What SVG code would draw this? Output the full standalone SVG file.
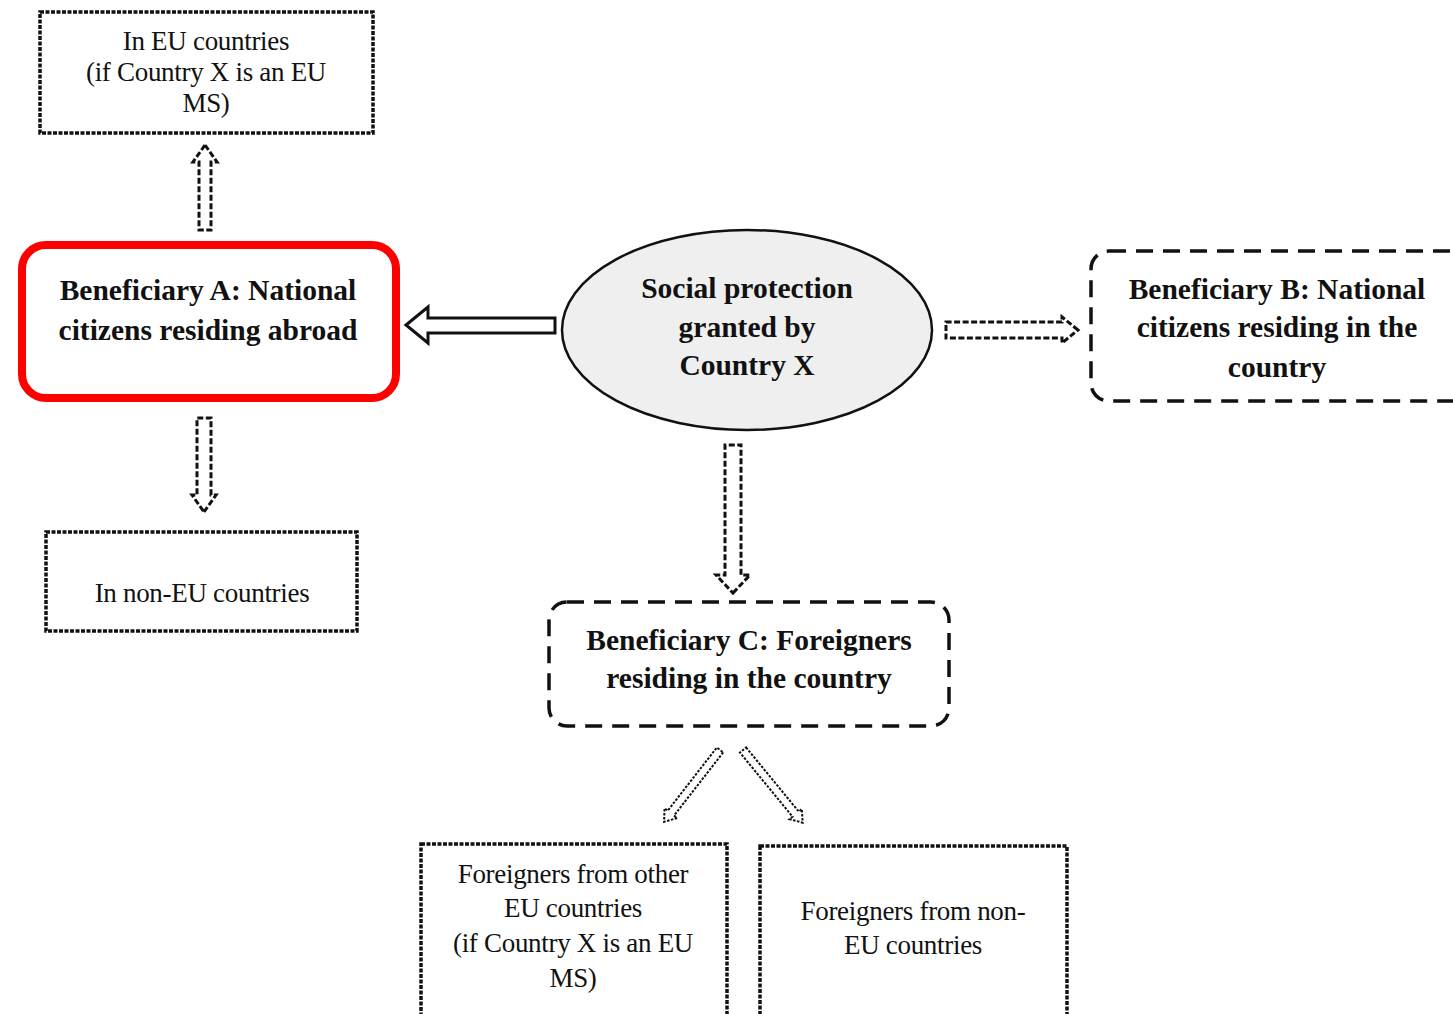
<svg xmlns="http://www.w3.org/2000/svg" width="1453" height="1014" viewBox="0 0 1453 1014">
<style>
text{font-family:"Liberation Serif","Times New Roman",serif;fill:#111;text-anchor:middle}
.r{font-size:27px;letter-spacing:-0.3px}
.b{font-size:29.5px;font-weight:bold}
.dot{fill:none;stroke:#111;stroke-width:3.5;stroke-dasharray:4 1.5}
.dash{fill:none;stroke:#111;stroke-width:3.5;stroke-dasharray:17 10}
.ha{fill:#fff;stroke:#111;stroke-width:3;stroke-dasharray:6 2.5;stroke-linejoin:miter}
.hs{fill:#fff;stroke:#111;stroke-width:3}
.hd{fill:#fff;stroke:#111;stroke-width:2;stroke-dasharray:2.5 1.5}
</style>
<rect width="1453" height="1014" fill="#fff"/>
<g id="connectors">
<polygon class="ha" points="205,145 217,162 211,162 211,230 199,230 199,162 193,162"/>
<polygon class="hs" points="406,325 428,307 428,318 555,318 555,333 428,333 428,343"/>
<polygon class="ha" points="1078,330 1062,317 1062,322 946,322 946,338 1062,338 1062,343"/>
<polygon class="ha" points="204,512 216,495 211,495 211,418 197,418 197,495 192,495"/>
<polygon class="ha" points="733,593 750,575 741,575 741,445 725,445 725,575 716,575"/>
<polygon class="hd" transform="translate(720,750) rotate(127.9)" points="0,-4 80,-4 80,-8 91,0 80,8 80,4 0,4"/>
<polygon class="hd" transform="translate(743,750) rotate(50.6)" points="0,-4 83,-4 83,-8 94,0 83,8 83,4 0,4"/>
</g>
<g id="eu">
<rect class="dot" x="40" y="12" width="333" height="121"/>
<text class="r" x="206" y="50">In EU countries</text>
<text class="r" x="206" y="81">(if Country X is an EU</text>
<text class="r" x="206" y="112">MS)</text>
</g>
<g id="benA">
<rect x="22" y="245" width="374" height="153" rx="24" fill="#fff" stroke="#ff0000" stroke-width="8"/>
<text class="b" x="208" y="300">Beneficiary A: National</text>
<text class="b" x="208" y="340">citizens residing abroad</text>
</g>
<g id="social">
<ellipse cx="747" cy="330" rx="185" ry="100" fill="#efefef" stroke="#111" stroke-width="2.5"/>
<text class="b" x="747" y="298">Social protection</text>
<text class="b" x="747" y="337">granted by</text>
<text class="b" x="747" y="375">Country X</text>
</g>
<g id="benB">
<rect class="dash" x="1091" y="251" width="380" height="150" rx="18"/>
<text class="b" x="1277" y="299">Beneficiary B: National</text>
<text class="b" x="1277" y="337">citizens residing in the</text>
<text class="b" x="1277" y="377">country</text>
</g>
<g id="noneu">
<rect class="dot" x="46" y="532" width="311" height="99"/>
<text class="r" x="202" y="602">In non-EU countries</text>
</g>
<g id="benC">
<rect class="dash" x="549" y="602" width="400" height="124" rx="18"/>
<text class="b" x="749" y="650">Beneficiary C: Foreigners</text>
<text class="b" x="749" y="688">residing in the country</text>
</g>
<g id="foreignEU">
<rect class="dot" x="421" y="844" width="306" height="190"/>
<text class="r" x="573" y="883">Foreigners from other</text>
<text class="r" x="573" y="917">EU countries</text>
<text class="r" x="573" y="952">(if Country X is an EU</text>
<text class="r" x="573" y="987">MS)</text>
</g>
<g id="foreignNonEU">
<rect class="dot" x="760" y="846" width="307" height="190"/>
<text class="r" x="913" y="920">Foreigners from non-</text>
<text class="r" x="913" y="954">EU countries</text>
</g>
</svg>
